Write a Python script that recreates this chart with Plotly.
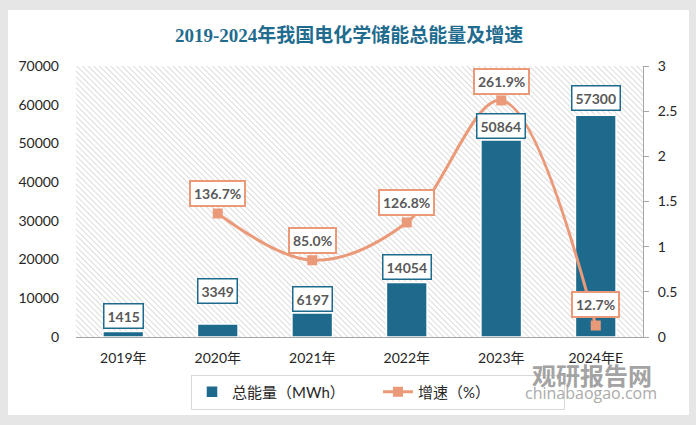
import base64
import plotly.graph_objects as go

# ---- data ----
categories = ["2019年", "2020年", "2021年", "2022年", "2023年", "2024年E"]
energy_mwh = [1415, 3349, 6197, 14054, 50864, 57300]
growth_categories = ["2020年", "2021年", "2022年", "2023年", "2024年E"]
growth_rate = [1.367, 0.850, 1.268, 2.619, 0.127]
growth_labels = ["136.7%", "85.0%", "126.8%", "261.9%", "12.7%"]

title_text = "2019-2024年我国电化学储能总能量及增速"
bar_name = "总能量（MWh）"
line_name = "增速（%）"

W, H = 696, 425
L, R, T, B = 76, 53, 66, 88
PW, PH = W - L - R, H - T - B

BAR = "#1d6a8d"
LINE = "#eb9a79"
LABEL = "#595959"
FONT = "Lato, Noto Sans CJK SC, sans-serif"


def px_x(p):
    return (p - L) / PW


def px_y(p):
    return (H - B - p) / PH


# hatch background as svg image
svg = (
    f'<svg xmlns="http://www.w3.org/2000/svg" width="{PW}" height="{PH}" preserveAspectRatio="none">'
    '<defs><pattern id="p" width="4" height="4" patternUnits="userSpaceOnUse" patternTransform="rotate(-45)">'
    '<line x1="0" y1="0" x2="0" y2="4" stroke="#c4c4c4" stroke-width="1.2"/></pattern></defs>'
    '<rect width="100%" height="100%" fill="white"/>'
    '<rect width="100%" height="100%" fill="url(#p)"/></svg>'
)
hatch_src = "data:image/svg+xml;base64," + base64.b64encode(svg.encode()).decode()

fig = go.Figure()
fig.add_trace(go.Bar(
    x=categories, y=energy_mwh, name=bar_name,
    marker=dict(color=BAR, line=dict(color="white", width=1.5)),
    width=0.43, yaxis="y",
))
fig.add_trace(go.Scatter(
    x=growth_categories, y=growth_rate, name=line_name, yaxis="y2",
    mode="lines+markers",
    line=dict(color=LINE, width=3, shape="spline", smoothing=1.0),
    marker=dict(symbol="square", size=10, color=LINE),
))

annotations = []
bar_shift = [16, 33, 14, 16, 14, 17]
for c, v, s in zip(categories, energy_mwh, bar_shift):
    annotations.append(dict(
        x=c, y=v, xref="x", yref="y", text=f"<b>{v}</b>", showarrow=False,
        yshift=s, yanchor="middle", bgcolor="white", bordercolor=BAR,
        borderwidth=1.5, borderpad=3, font=dict(family=FONT, size=14, color=LABEL),
    ))
line_shift = [20, 20, 20, 19, 21]
for c, v, t, s in zip(growth_categories, growth_rate, growth_labels, line_shift):
    annotations.append(dict(
        x=c, y=v, xref="x", yref="y2", text=f"<b>{t}</b>", showarrow=False,
        yshift=s, yanchor="middle", bgcolor="white", bordercolor=LINE,
        borderwidth=2, borderpad=3, font=dict(family=FONT, size=14, color=LABEL),
    ))
# title
annotations.append(dict(
    x=px_x(349), y=px_y(35), xref="paper", yref="paper", showarrow=False,
    text=f"<b>{title_text}</b>", xanchor="center", yanchor="middle",
    font=dict(family="Liberation Serif, Noto Sans CJK SC, serif", size=19, color="#1f6c8e"),
))
# watermark
annotations.append(dict(
    x=px_x(592), y=px_y(374), xref="paper", yref="paper", showarrow=False,
    text="<b>观研报告网</b>", xanchor="center", yanchor="middle",
    font=dict(family="Noto Sans CJK SC", size=24, color="#a3a3a3"),
))
annotations.append(dict(
    x=px_x(591), y=px_y(393), xref="paper", yref="paper", showarrow=False,
    text="chinabaogao.com", xanchor="center", yanchor="middle",
    font=dict(family="Open Sans, sans-serif", size=16, color="#ababab"),
))

GRAY = "#e6e6e6"
shapes = [
    dict(type="rect", xref="paper", yref="paper", x0=px_x(0), x1=px_x(W), y0=px_y(0), y1=px_y(10),
         fillcolor=GRAY, line_width=0, layer="below"),
    dict(type="rect", xref="paper", yref="paper", x0=px_x(0), x1=px_x(W), y0=px_y(415), y1=px_y(H),
         fillcolor=GRAY, line_width=0, layer="below"),
    dict(type="rect", xref="paper", yref="paper", x0=px_x(0), x1=px_x(8), y0=px_y(0), y1=px_y(H),
         fillcolor=GRAY, line_width=0, layer="below"),
    dict(type="rect", xref="paper", yref="paper", x0=px_x(689), x1=px_x(W), y0=px_y(0), y1=px_y(H),
         fillcolor=GRAY, line_width=0, layer="below"),
]

fig.update_layout(
    width=W, height=H,
    margin=dict(l=L, r=R, t=T, b=B, autoexpand=False),
    paper_bgcolor="white", plot_bgcolor="rgba(0,0,0,0)",
    font=dict(family=FONT, size=14, color="#262626"),
    showlegend=True,
    legend=dict(
        orientation="h", x=px_x(191), y=px_y(392), xanchor="left", yanchor="middle",
        bordercolor="#d9d9d9", borderwidth=1, bgcolor="white",
        font=dict(family=FONT, size=15, color="#262626"),
        itemwidth=30, entrywidth=141, tracegroupgap=0,
    ),
    xaxis=dict(
        type="category", categoryorder="array", categoryarray=categories,
        showline=True, linecolor="#a6a6a6", linewidth=1, ticks="", showgrid=False,
        tickfont=dict(size=14, color="#262626"), ticklabelstandoff=8, automargin=False,
    ),
    yaxis=dict(
        range=[0, 70000], dtick=10000, tickformat="d", showgrid=False, showline=False,
        zeroline=False, automargin=False,
        tickfont=dict(size=14, color="#262626"), ticklabelstandoff=16,
    ),
    yaxis2=dict(
        overlaying="y", side="right", range=[0, 3], dtick=0.5, showgrid=False,
        showline=True, linecolor="#a6a6a6", linewidth=1, ticks="outside", ticklen=5,
        tickcolor="#a6a6a6", zeroline=False, tickfont=dict(size=14, color="#262626"),
        ticklabelstandoff=6, automargin=False,
    ),
    images=[dict(source=hatch_src, xref="paper", yref="paper", x=0, y=1, sizex=1, sizey=1,
                 xanchor="left", yanchor="top", sizing="stretch", layer="below")],
    annotations=annotations,
    shapes=shapes,
)

fig.write_html("out.html", config={"displayModeBar": False},
               post_script="document.body.style.margin='0';")
